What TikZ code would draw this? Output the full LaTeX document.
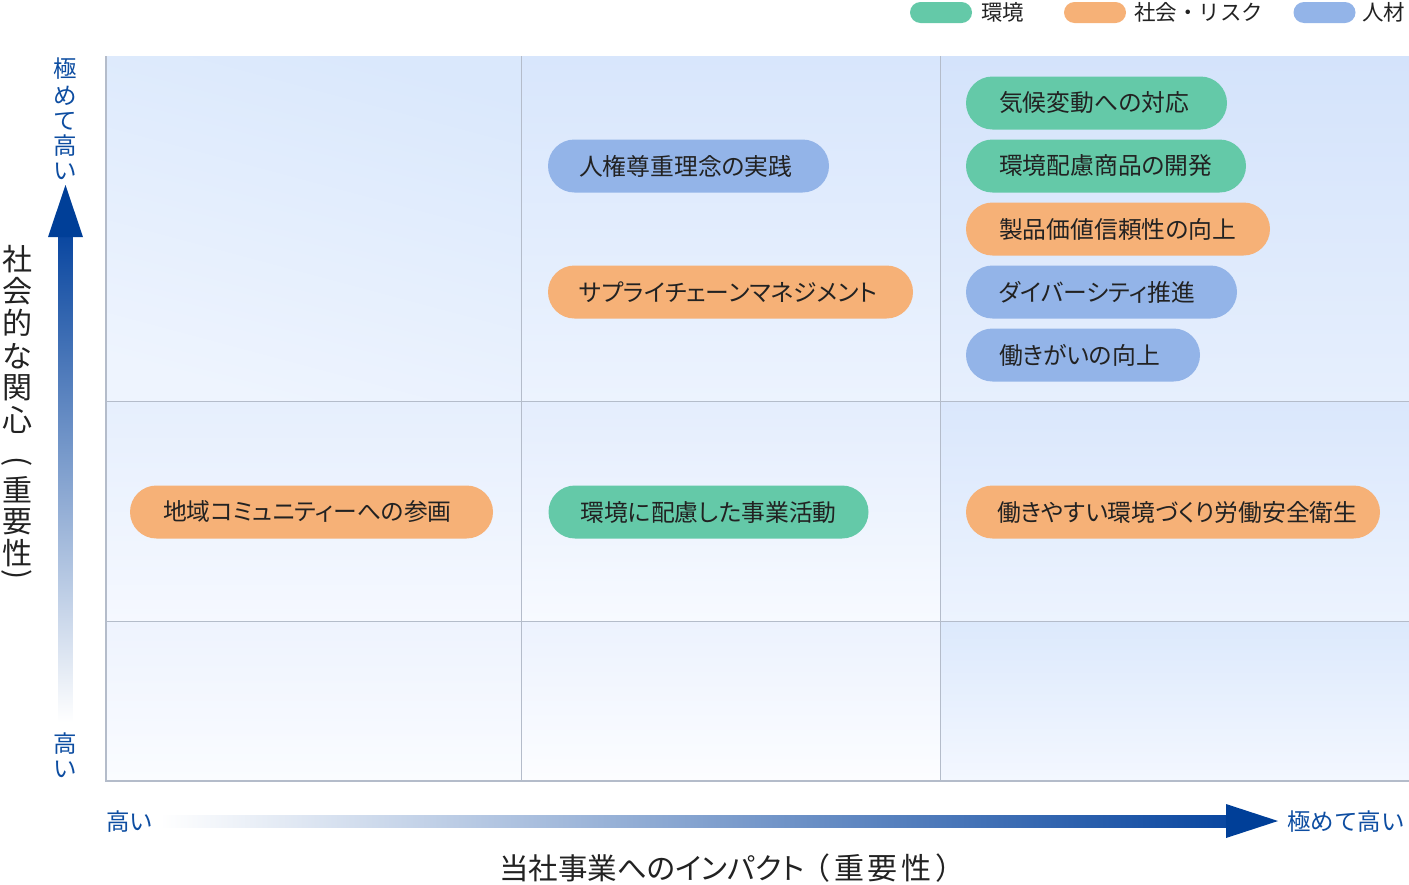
\documentclass[tikz,border=0pt]{standalone}
\usepackage{fontspec}
\setmainfont{Noto Sans CJK JP}
\newfontfamily\jpp[RawFeature=+palt]{Noto Sans CJK JP}
\newfontfamily\jpls[LetterSpace=13]{Noto Sans CJK JP}
\definecolor{cgreen}{HTML}{64C9A8}
\definecolor{corange}{HTML}{F6B177}
\definecolor{cblue}{HTML}{93B4E8}
\definecolor{ctext}{HTML}{222222}
\definecolor{navy}{HTML}{003F98}
\definecolor{shaftc}{HTML}{0A47A0}
\definecolor{lblue}{HTML}{0D4DA1}
\definecolor{gridc}{HTML}{B4BCCA}
\tikzset{
  pill/.style={rounded corners=26.5pt, minimum height=53pt, inner sep=0pt},
  pilltext/.style={anchor=west, inner sep=0pt, text=ctext, font=\jpp\fontsize{23.8}{24}\selectfont},
  legpill/.style={rounded corners=10.5pt, minimum height=21pt, minimum width=62pt, inner sep=0pt},
  legtext/.style={anchor=west, inner sep=0pt, text=ctext, font=\fontsize{21.5}{22}\selectfont},
  axlabel/.style={inner sep=0pt, text=lblue, font=\fontsize{23.5}{24}\selectfont},
  titlechar/.style={inner sep=0pt, text=ctext, font=\fontsize{30}{30}\selectfont},
  gridline/.style={draw=gridc, line width=1pt},
  border/.style={draw=gridc, line width=2pt},
  cell/.style={shading angle=-35},
}
\begin{document}
\begin{tikzpicture}[x=1pt, y=-1pt]
\useasboundingbox (0,0) rectangle (1409,884);
% cells
\shade[cell, top color={rgb,255:red,218;green,232;blue,252}, bottom color={rgb,255:red,238;green,244;blue,254}, shading angle=-15] (106,56) rectangle (521,401);
\shade[cell, top color={rgb,255:red,216;green,230;blue,252}, bottom color={rgb,255:red,236;green,243;blue,254}] (521,56) rectangle (940,401);
\shade[cell, top color={rgb,255:red,212;green,227;blue,251}, bottom color={rgb,255:red,230;green,239;blue,253}] (940,56) rectangle (1409,401);
\shade[cell, top color={rgb,255:red,230;green,239;blue,253}, bottom color={rgb,255:red,245;green,248;blue,255}] (106,401) rectangle (521,621);
\shade[cell, top color={rgb,255:red,228;green,237;blue,253}, bottom color={rgb,255:red,247;green,250;blue,255}] (521,401) rectangle (940,621);
\shade[cell, top color={rgb,255:red,218;green,231;blue,252}, bottom color={rgb,255:red,236;green,243;blue,254}] (940,401) rectangle (1409,621);
\shade[cell, top color={rgb,255:red,238;green,243;blue,254}, bottom color={rgb,255:red,250;green,252;blue,255}] (106,621) rectangle (521,780);
\shade[cell, top color={rgb,255:red,236;green,242;blue,254}, bottom color={rgb,255:red,252;green,253;blue,255}] (521,621) rectangle (940,780);
\shade[cell, top color={rgb,255:red,220;green,233;blue,252}, bottom color={rgb,255:red,243;green,247;blue,255}] (940,621) rectangle (1409,780);
% grid
\coordinate (v1t) at (521.5,56); \coordinate (v1b) at (521.5,780);
\coordinate (v2t) at (940.5,56); \coordinate (v2b) at (940.5,780);
\coordinate (h1l) at (106,401.5); \coordinate (h1r) at (1409,401.5);
\coordinate (h2l) at (106,621.5); \coordinate (h2r) at (1409,621.5);
\coordinate (lt) at (106,56); \coordinate (lb) at (106,781.5);
\coordinate (bl) at (105,780.5); \coordinate (br) at (1409,780.5);
\draw[gridline] (v1t) -- (v1b);
\draw[gridline] (v2t) -- (v2b);
\draw[gridline] (h1l) -- (h1r);
\draw[gridline] (h2l) -- (h2r);
\draw[border] (lt) -- (lb);
\draw[border] (bl) -- (br);
% legend
\node[legpill, fill=cgreen] (lg1) at (941,12.5) {};
\node[legtext] (lg1t) at (981,12) {環境};
\node[legpill, fill=corange] (lg2) at (1095,12.5) {};
\node[legtext] (lg2t) at (1134,12) {社会・リスク};
\node[legpill, fill=cblue] (lg3) at (1324.5,12.5) {};
\node[legtext] (lg3t) at (1362,12) {人材};
% pills
\node[pill, fill=cgreen, minimum width=261pt] (p1) at (1096.5,103) {};
\node[pilltext] (p1t) at ([xshift=33pt]p1.west) {気候変動への対応};
\node[pill, fill=cgreen, minimum width=280pt] (p2) at (1106,166) {};
\node[pilltext] (p2t) at ([xshift=33pt]p2.west) {環境配慮商品の開発};
\node[pill, fill=corange, minimum width=304pt] (p3) at (1118,229) {};
\node[pilltext] (p3t) at ([xshift=33pt]p3.west) {製品価値信頼性の向上};
\node[pill, fill=cblue, minimum width=271pt] (p4) at (1101.5,292) {};
\node[pilltext] (p4t) at ([xshift=33pt]p4.west) {ダイバーシティ推進};
\node[pill, fill=cblue, minimum width=234pt] (p5) at (1083,355) {};
\node[pilltext] (p5t) at ([xshift=33pt]p5.west) {働きがいの向上};
\node[pill, fill=cblue, minimum width=281pt] (p6) at (688.5,166) {};
\node[pilltext] (p6t) at ([xshift=31pt]p6.west) {人権尊重理念の実践};
\node[pill, fill=corange, minimum width=365pt] (p7) at (730.5,292) {};
\node[pilltext] (p7t) at ([xshift=31pt]p7.west) {サプライチェーンマネジメント};
\node[pill, fill=corange, minimum width=363pt] (p8) at (311.5,512) {};
\node[pilltext] (p8t) at ([xshift=33pt]p8.west) {地域コミュニティーへの参画};
\node[pill, fill=cgreen, minimum width=320pt] (p9) at (708.5,512) {};
\node[pilltext] (p9t) at ([xshift=32pt]p9.west) {環境に配慮した事業活動};
\node[pill, fill=corange, minimum width=414pt] (p10) at (1173,512) {};
\node[pilltext] (p10t) at ([xshift=31pt]p10.west) {働きやすい環境づくり労働安全衛生};
% vertical axis arrow
\coordinate (vtip) at (65.5,185);
\coordinate (vbl) at (48,237); \coordinate (vbr) at (83,237);
\shade[top color=shaftc, bottom color=white] (58.5,236) rectangle (72.5,722);
\fill[navy] (vbl) -- (vtip) -- (vbr) -- cycle;
% horizontal axis arrow
\coordinate (htip) at (1278,821);
\coordinate (hbt) at (1226,804); \coordinate (hbb) at (1226,838);
\shade[left color=white, right color=shaftc] (160,815) rectangle (1227,827);
\fill[navy] (hbt) -- (htip) -- (hbb) -- cycle;
% vertical axis labels
\node[axlabel] (ya1) at (65.5,69) {極};
\node[axlabel] (ya2) at (65.5,96) {め};
\node[axlabel] (ya3) at (65.5,121) {て};
\node[axlabel] (ya4) at (65.5,146) {高};
\node[axlabel] (ya5) at (65.5,171) {い};
\node[axlabel] (yb1) at (65.5,744) {高};
\node[axlabel] (yb2) at (65.5,769) {い};
% horizontal axis labels
\node[axlabel, anchor=west] (xa) at (106,822) {高い};
\node[axlabel, anchor=west] (xb) at (1287,822) {極めて高い};
% left title (vertical)
\node[titlechar] (lt1) at (17,259) {社};
\node[titlechar] (lt2) at (17,291) {会};
\node[titlechar] (lt3) at (17,323) {的};
\node[titlechar] (lt4) at (17,356) {な};
\node[titlechar] (lt5) at (17,388) {関};
\node[titlechar] (lt6) at (17,420) {心};
\node[titlechar] (lt7) at (17,462) {\rotatebox{-90}{(}};
\node[titlechar] (lt8) at (17,490) {重};
\node[titlechar] (lt9) at (17,522) {要};
\node[titlechar] (lt10) at (17,553) {性};
\node[titlechar] (lt11) at (17,575) {\rotatebox{-90}{)}};
% bottom title
\node[inner sep=0pt, text=ctext, anchor=west, font=\jpp\fontsize{29.5}{30}\selectfont] (bt1) at (499,868) {当社事業へのインパクト};
\node[inner sep=0pt, text=ctext, anchor=west, font=\jpls\fontsize{30}{30}\selectfont] (bt2) at (800,868) {（重要性）};
\end{tikzpicture}
\end{document}
